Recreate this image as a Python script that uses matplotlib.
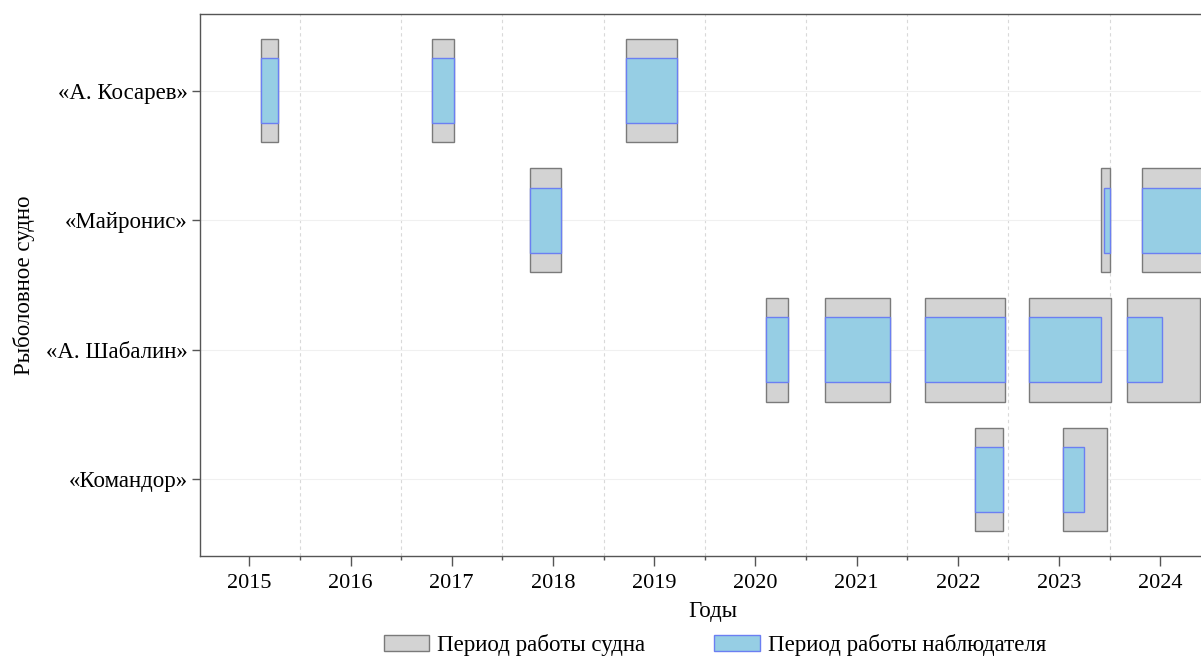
import matplotlib
matplotlib.use("Agg")
import matplotlib.pyplot as plt
from matplotlib.patches import Patch
from matplotlib.ticker import MultipleLocator

plt.rcParams['font.family'] = ['Liberation Serif', 'DejaVu Serif']

vessels = ["«А. Косарев»", "«Майронис»", "«А. Шабалин»", "«Командор»"]

# Vessel work periods (decimal years)
ship_vessel = [0, 0, 0, 1, 1, 1, 2, 2, 2, 2, 2, 3, 3]
ship_start = [2015.12, 2016.81, 2018.72, 2017.77, 2023.41, 2023.82,
              2020.11, 2020.69, 2021.68, 2022.70, 2023.67, 2022.17, 2023.04]
ship_end = [2015.28, 2017.02, 2019.23, 2018.08, 2023.50, 2024.75,
            2020.32, 2021.33, 2022.47, 2023.51, 2024.39, 2022.45, 2023.47]

# Observer work periods (decimal years)
obs_vessel = [0, 0, 0, 1, 1, 1, 2, 2, 2, 2, 2, 3, 3]
obs_start = [2015.12, 2016.81, 2018.72, 2017.77, 2023.44, 2023.82,
             2020.11, 2020.69, 2021.68, 2022.70, 2023.67, 2022.17, 2023.04]
obs_end = [2015.28, 2017.02, 2019.23, 2018.08, 2023.50, 2024.70,
           2020.32, 2021.33, 2022.47, 2023.41, 2024.02, 2022.45, 2023.25]

years = list(range(2015, 2025))

ship_face = '#d3d3d3'
ship_edge = '#7a7a7a'
obs_face = '#96cee4'
obs_edge = '#6b7ff2'

W, H = 1201, 656
fig = plt.figure(figsize=(W / 100, H / 100), dpi=100)
ax = fig.add_axes([200 / W, 100 / H, 1025 / W, 542 / H])

ax.barh(ship_vessel, [e - s for s, e in zip(ship_start, ship_end)], left=ship_start,
        height=0.8, color=ship_face, edgecolor=ship_edge, linewidth=1.0, zorder=3)
ax.barh(obs_vessel, [e - s for s, e in zip(obs_start, obs_end)], left=obs_start,
        height=0.5, color=obs_face, edgecolor=obs_edge, linewidth=1.0, zorder=4)

ax.set_xlim(2014.513, 2024.64)
ax.set_ylim(3.59, -0.59)
ax.set_yticks(range(len(vessels)))
ax.set_yticklabels(vessels)
ax.set_xticks(years)
ax.set_xticklabels([str(y) for y in years])
ax.xaxis.set_minor_locator(MultipleLocator(0.5))

ax.grid(True, axis='x', which='minor', linestyle=(0, (3, 3)), color='#d9d9d9', linewidth=0.8, zorder=0)
ax.grid(True, axis='y', which='major', linestyle='-', color='#f0f0f0', linewidth=0.8, zorder=0)

for sp in ax.spines.values():
    sp.set_color('#555555')
    sp.set_linewidth(1.0)

ax.tick_params(axis='x', which='major', length=7, width=1, color='#555555', labelsize=16, pad=6)
ax.tick_params(axis='x', which='minor', length=3, width=1, color='#555555')
ax.tick_params(axis='y', which='major', length=6, width=1, color='#555555', labelsize=16.5, pad=3)
ax.tick_params(axis='y', which='minor', length=0)

ax.set_xlabel("Годы", fontsize=16.5, labelpad=6)
ax.set_ylabel("Рыболовное судно", fontsize=16.5, labelpad=8)

handles = [Patch(facecolor=ship_face, edgecolor=ship_edge, linewidth=1.0, label="Период работы судна"),
           Patch(facecolor=obs_face, edgecolor=obs_edge, linewidth=1.0, label="Период работы наблюдателя")]
fig.legend(handles=handles, loc='center', bbox_to_anchor=(715 / W, 1 - 645 / H), ncol=2,
           frameon=False, fontsize=16.5, handlelength=2.0, handleheight=0.7,
           handletextpad=0.35, columnspacing=3.0)

fig.savefig("out.png", dpi=100)
